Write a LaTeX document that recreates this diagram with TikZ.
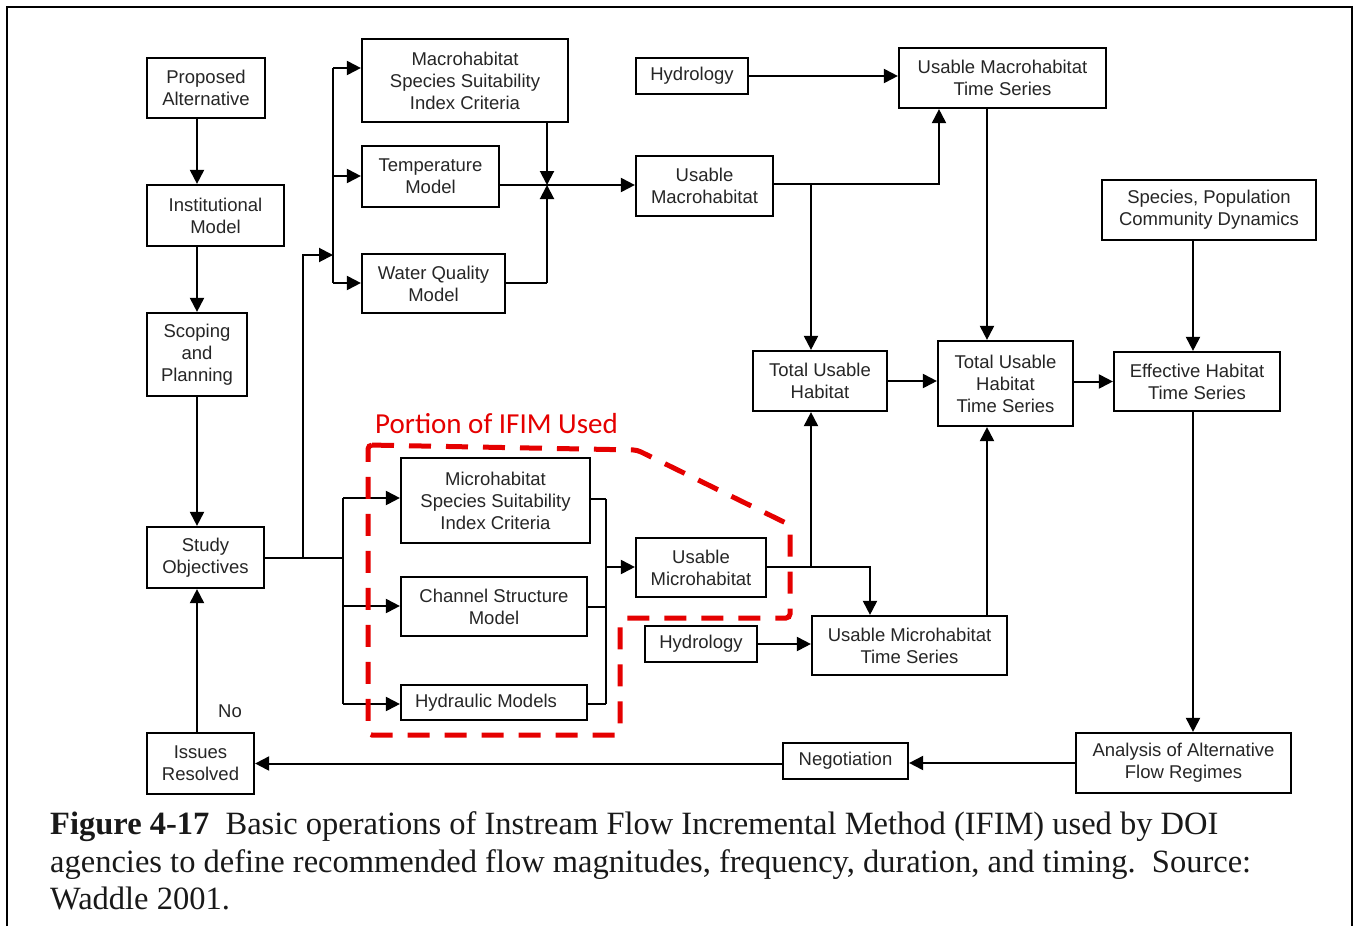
\documentclass[tikz,border=0pt]{standalone}
\usepackage{fontspec}
\setmainfont{Liberation Serif}
\newfontfamily\arialf{Liberation Sans}
\newfontfamily\califont{Carlito}
\usetikzlibrary{arrows.meta}
\newcommand\bxfont{\arialf\fontsize{18.5}{22}\selectfont}
\newcommand\capfont{\fontsize{32.5}{37.5}\selectfont}
\begin{document}
\begin{tikzpicture}[x=1pt,y=-1pt,
  bx/.style 2 args={draw, line width=2.2pt, inner sep=0pt, align=center,
    minimum width=#1pt, minimum height=#2pt, font=\bxfont, text=black!85},
  ln/.style={line width=2pt},
  arr/.style={line width=2pt, -{Triangle[length=14pt,width=14pt]}},
  capt/.style={anchor=base west, inner sep=0pt, font=\capfont, text=black!90},
  ifim/.style={draw=red!90!black, line width=5pt, dash pattern=on 22pt off 15pt, rounded corners=4pt}
]
\useasboundingbox (0,0) rectangle (1356,926);
\fill[white] (0,0) rectangle (1356,926);
\draw[line width=2pt] (7,926) -- (7,7) -- (1352,7) -- (1352,926);

% boxes
\node[bx={118}{60}] (pa) at (206,88) {Proposed\\Alternative};
\node[bx={137}{61}] (im) at (215.5,215.5) {Institutional\\Model};
\node[bx={100}{83}] (sp) at (197,354.5) {Scoping\\and\\Planning};
\node[bx={117}{61}] (so) at (205.5,557.5) {Study\\Objectives};
\node[bx={107}{61}] (ir) at (200.5,763.5) {Issues\\Resolved};
\node[bx={206}{83}] (mssi) at (465,80.5) {Macrohabitat\\Species Suitability\\Index Criteria};
\node[bx={137}{61}] (tm) at (430.5,176.5) {Temperature\\Model};
\node[bx={143}{59}] (wq) at (433.5,283.5) {Water Quality\\Model};
\node[bx={137}{60}] (umac) at (704.5,186) {Usable\\Macrohabitat};
\node[bx={112}{36}] (hya) at (692,76) {Hydrology};
\node[bx={207}{60}] (umts) at (1002.5,78) {Usable Macrohabitat\\Time Series};
\node[bx={134}{60}] (tuh) at (820,381) {Total Usable\\Habitat};
\node[bx={135}{85}] (tuhts) at (1005.5,383.5) {Total Usable\\Habitat\\Time Series};
\node[bx={166}{59}] (eh) at (1197,381.5) {Effective Habitat\\Time Series};
\node[bx={214}{60}] (spc) at (1209,210) {Species, Population\\Community Dynamics};
\node[bx={215}{60}] (an) at (1183.5,763) {Analysis of Alternative\\Flow Regimes};
\node[bx={125}{36}] (neg) at (845.5,761) {Negotiation};
\node[bx={189}{85}] (mic) at (495.5,500.5) {Microhabitat\\Species Suitability\\Index Criteria};
\node[bx={186}{59}] (csm) at (494,606.5) {Channel Structure\\Model};
\node[bx={186}{35}] (hm) at (494,702.5) {Hydraulic Models\hspace*{16pt}};
\node[bx={130}{59}] (umic) at (701,567.5) {Usable\\Microhabitat};
\node[bx={112}{36}] (hyb) at (701,644) {Hydrology};
\node[bx={195}{59}] (umits) at (909.5,645.5) {Usable Microhabitat\\Time Series};

\node[font=\bxfont, text=black!85, inner sep=0pt] (no) at (230,711) {No};

% helper coordinates
\coordinate (cL) at (197,0);
\coordinate (b0) at (303,557);
\coordinate (b1) at (303,255);
\coordinate (vx) at (333,255);
\coordinate (v1) at (333,68);
\coordinate (v2) at (333,176);
\coordinate (v3) at (333,283);
\coordinate (w1) at (343,498);
\coordinate (w2) at (343,606);
\coordinate (w3) at (343,704);
\coordinate (j) at (547,185);
\coordinate (r1) at (606,499);
\coordinate (r1b) at (606,607);
\coordinate (r2) at (606,567);
\coordinate (r3) at (606,704);
\coordinate (u0) at (811,567);
\coordinate (u1) at (870,567);
\coordinate (m0) at (811,184);
\coordinate (m1) at (939,184);
\coordinate (x987) at (987,0);
\coordinate (x1193) at (1193,0);

% left column
\draw[arr] (pa.south -| cL) -- (im.north -| cL);
\draw[arr] (im.south -| cL) -- (sp.north -| cL);
\draw[arr] (sp.south -| cL) -- (so.north -| cL);
\draw[arr] (ir.north -| cL) -- (so.south -| cL);

% study objectives branches
\draw[ln] (so.east) -- (so.east -| w1);
\draw[arr] (b0) -- (b1) -- (vx);
\draw[ln] (v1) -- (v3);
\draw[arr] (v1) -- (mssi.west |- v1);
\draw[arr] (v2) -- (tm.west |- v2);
\draw[arr] (v3) -- (wq.west |- v3);
\draw[ln] (w1) -- (w3);
\draw[arr] (w1) -- (mic.west |- w1);
\draw[arr] (w2) -- (csm.west |- w2);
\draw[arr] (w3) -- (hm.west |- w3);

% macro junction
\draw[arr] (mssi.south -| j) -- (j);
\draw[ln] (tm.east |- j) -- (j);
\draw[ln] (wq.east |- v3) -- (v3 -| j);
\draw[arr] (v3 -| j) -- (j);
\draw[arr] (j) -- (umac.west |- j);

% macro right side
\draw[arr] (hya.east) -- (umts.west |- hya.east);
\draw[arr] (umac.east |- m1) -- (m1) -- (umts.south -| m1);
\draw[arr] (m0) -- (tuh.north -| m0);
\draw[arr] (umts.south -| x987) -- (tuhts.north -| x987);
\draw[arr] (tuh.east) -- (tuhts.west |- tuh.east);
\draw[arr] (tuhts.east |- eh.west) -- (eh.west);
\draw[arr] (spc.south -| x1193) -- (eh.north -| x1193);
\draw[arr] (eh.south -| x1193) -- (an.north -| x1193);
\draw[arr] (an.west) -- (neg.east |- an.west);
\draw[arr] (neg.west |- ir.east) -- (ir.east);

% micro side
\draw[ln] (mic.east |- r1) -- (r1);
\draw[ln] (csm.east |- r1b) -- (r1b);
\draw[ln] (hm.east |- r3) -- (r3);
\draw[ln] (r1) -- (r3);
\draw[arr] (r2) -- (umic.west |- r2);
\draw[arr] (umic.east |- u1) -- (u1) -- (umits.north -| u1);
\draw[arr] (u0) -- (tuh.south -| u0);
\draw[arr] (hyb.east) -- (umits.west |- hyb.east);
\draw[arr] (umits.north -| x987) -- (tuhts.south -| x987);

% IFIM portion
\draw[ifim] (368,445) -- (637,450) -- (790,525) -- (790,618) -- (620,618) -- (620,735) -- (368,735) -- cycle;
\node[anchor=base west, inner sep=0pt, font=\califont\fontsize{29}{34}\selectfont, text=red!90!black] (portion) at (375,433) {Portion of IFIM Used};

% caption
\node[capt] (cap1) at (50,834) {\textbf{Figure 4-17}\ \ Basic operations of Instream Flow Incremental Method (IFIM) used by DOI};
\node[capt] (cap2) at (50,872) {agencies to define recommended flow magnitudes, frequency, duration, and timing.\ \ Source:};
\node[capt] (cap3) at (50,909) {Waddle 2001.};
\end{tikzpicture}
\end{document}
